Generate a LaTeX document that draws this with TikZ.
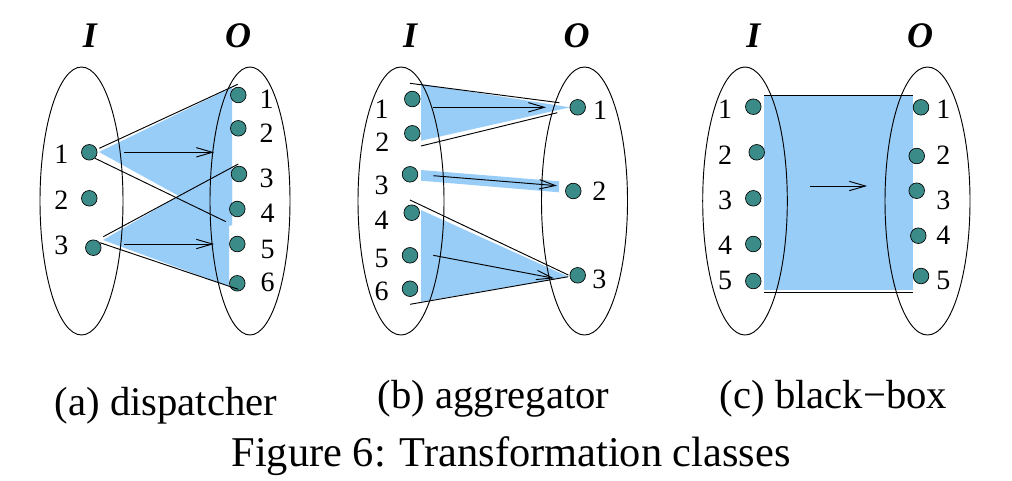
\documentclass[tikz,border=0pt]{standalone}
\usepackage{fontspec}
\setmainfont{Liberation Serif}
\usetikzlibrary{arrows.meta}
\definecolor{dotc}{HTML}{3B8C88}
\definecolor{blu}{HTML}{98CDF8}
\tikzset{
  dot/.style={circle,draw=black,line width=0.5pt,fill=dotc,minimum size=11.7pt,inner sep=0pt},
  num/.style={font=\fontsize{21pt}{22pt}\selectfont,inner sep=0pt},
  io/.style={font=\fontsize{27pt}{28pt}\selectfont\bfseries\itshape,inner sep=0pt},
  captxt/.style={font=\fontsize{30.5pt}{32pt}\selectfont,inner sep=0pt},
  figtxt/.style={font=\fontsize{31.8pt}{33pt}\selectfont,inner sep=0pt},
  ln/.style={draw=black,line width=0.7pt},
  arr/.style={ln,-{Straight Barb[length=12pt,width=7pt]}},
  setell/.style={draw=black,line width=0.7pt}
}
\begin{document}
\begin{tikzpicture}[x=0.75pt,y=-0.75pt]
\useasboundingbox (0,0) rectangle (1012,480);

% ================= (a) dispatcher =================
\fill[blu] (99,152) -- (237,85) -- (232,86) -- (232,225) -- (226,222) -- cycle;
\fill[blu] (103,240) -- (232,165) -- (232,225) -- (229,226) -- (229,287) -- (236,289) -- cycle;
\draw[setell] (81.5,201) ellipse [x radius=41.5, y radius=134];
\draw[setell] (250,201) ellipse [x radius=40, y radius=134];
\node[io] (aI) at (90,36) {I};
\node[io] (aO) at (238,36) {O};
\node[dot] (ai1) at (89.3,152.3) {};
\node[dot] (ai2) at (89.3,198.3) {};
\node[dot] (ai3) at (93.3,247.7) {};
\node[num] (ail1) at (61.3,154.7) {1};
\node[num] (ail2) at (61.3,200.7) {2};
\node[num] (ail3) at (61.3,245.5) {3};
\node[dot] (ao1) at (238.3,95) {};
\node[dot] (ao2) at (238.3,128.3) {};
\node[dot] (ao3) at (239,174) {};
\node[dot] (ao4) at (237.3,209) {};
\node[dot] (ao5) at (237.3,244) {};
\node[dot] (ao6) at (237.3,283.3) {};
\node[num] (aol1) at (266.7,99) {1};
\node[num] (aol2) at (266.7,133) {2};
\node[num] (aol3) at (266.7,178) {3};
\node[num] (aol4) at (267.7,213) {4};
\node[num] (aol5) at (267.7,249) {5};
\node[num] (aol6) at (267.7,282) {6};
\coordinate (a1s) at (99.3,148.3); \coordinate (a1e) at (237.7,84.3);
\coordinate (a2s) at (95,158.3);   \coordinate (a2e) at (226,221.7);
\coordinate (a3s) at (103.3,236.7);\coordinate (a3e) at (238.3,164);
\coordinate (a4s) at (100,242.7);  \coordinate (a4e) at (238.3,289.3);
\coordinate (aA1s) at (124,152.3); \coordinate (aA1e) at (214,152.3);
\coordinate (aA2s) at (124,244);   \coordinate (aA2e) at (214,244);
\draw[ln] (a1s) -- (a1e);
\draw[ln] (a2s) -- (a2e);
\draw[ln] (a3s) -- (a3e);
\draw[ln] (a4s) -- (a4e);
\draw[arr] (aA1s) -- (aA1e);
\draw[arr] (aA2s) -- (aA2e);

% ================= (b) aggregator =================
\fill[blu] (421,84) -- (570,107.3) -- (421,140.7) -- cycle;
\fill[blu] (421,170) -- (559,181.3) -- (559,192.3) -- (421,180.7) -- cycle;
\fill[blu] (421,210) -- (568.3,276.7) -- (421,301.7) -- cycle;
\draw[setell] (401,201) ellipse [x radius=43, y radius=134];
\draw[setell] (584.5,201) ellipse [x radius=43, y radius=134];
\node[io] (bI) at (410,36) {I};
\node[io] (bO) at (576.7,36) {O};
\node[dot] (bi1) at (412.3,99) {};
\node[dot] (bi2) at (412.3,133.3) {};
\node[dot] (bi3) at (410,174.3) {};
\node[dot] (bi4) at (411.7,212.7) {};
\node[dot] (bi5) at (410,255.3) {};
\node[dot] (bi6) at (410,288.7) {};
\node[num] (bil1) at (381.7,109.2) {1};
\node[num] (bil2) at (382.3,142.5) {2};
\node[num] (bil3) at (381.7,185.8) {3};
\node[num] (bil4) at (381.7,220) {4};
\node[num] (bil5) at (381.7,258) {5};
\node[num] (bil6) at (381.7,291.7) {6};
\node[dot] (bo1) at (577.7,107.3) {};
\node[dot] (bo2) at (573.3,191) {};
\node[dot] (bo3) at (577.7,275.3) {};
\node[num] (bol1) at (600,110) {1};
\node[num] (bol2) at (599.3,191) {2};
\node[num] (bol3) at (599.3,279) {3};
\coordinate (b1s) at (410,83.3);   \coordinate (b1e) at (559.3,102.7);
\coordinate (b2s) at (421,146);    \coordinate (b2e) at (557.3,112.7);
\coordinate (b3s) at (410,200);    \coordinate (b3e) at (568.3,275);
\coordinate (b4s) at (410,304.3);  \coordinate (b4e) at (568.3,276.7);
\coordinate (bA1s) at (433.3,107.3); \coordinate (bA1e) at (546,107.3);
\coordinate (bA2s) at (433.3,175.7); \coordinate (bA2e) at (557,185.7);
\coordinate (bA3s) at (433.3,255.3); \coordinate (bA3e) at (554,278.3);
\draw[ln] (b1s) -- (b1e);
\draw[ln] (b2s) -- (b2e);
\draw[ln] (b3s) -- (b3e);
\draw[ln] (b4s) -- (b4e);
\draw[arr] (bA1s) -- (bA1e);
\draw[arr] (bA2s) -- (bA2e);
\draw[arr] (bA3s) -- (bA3e);

% ================= (c) black-box =================
\fill[blu] (764,95) rectangle (913.3,290);
\draw[setell] (745,201) ellipse [x radius=42.3, y radius=134];
\draw[setell] (927.5,201) ellipse [x radius=42.5, y radius=134];
\node[io] (cI) at (753.3,36) {I};
\node[io] (cO) at (920,36) {O};
\coordinate (c1s) at (764,95);    \coordinate (c1e) at (913.3,95);
\coordinate (c2s) at (764,292.7); \coordinate (c2e) at (913.3,292.7);
\coordinate (cAs) at (810,186);   \coordinate (cAe) at (867,186);
\draw[ln] (c1s) -- (c1e);
\draw[ln] (c2s) -- (c2e);
\draw[arr] (cAs) -- (cAe);
\node[dot] (ci1) at (753.3,106.7) {};
\node[dot] (ci2) at (756.7,152.3) {};
\node[dot] (ci3) at (753.3,198.3) {};
\node[dot] (ci4) at (753.3,244) {};
\node[dot] (ci5) at (753.3,281) {};
\node[num] (cil1) at (725,109.5) {1};
\node[num] (cil2) at (725,155.5) {2};
\node[num] (cil3) at (725,200.5) {3};
\node[num] (cil4) at (725,245) {4};
\node[num] (cil5) at (725,280.5) {5};
\node[dot] (co1) at (921,107.3) {};
\node[dot] (co2) at (916.7,156) {};
\node[dot] (co3) at (916.7,190.7) {};
\node[dot] (co4) at (918.3,235.7) {};
\node[dot] (co5) at (921,276) {};
\node[num] (col1) at (943.3,109.5) {1};
\node[num] (col2) at (943.3,155.5) {2};
\node[num] (col3) at (943.3,200.5) {3};
\node[num] (col4) at (943.3,235) {4};
\node[num] (col5) at (943.3,280.5) {5};

% ================= captions =================
\node[captxt,anchor=base] (capa) at (166,415) {(a) dispatcher};
\node[captxt,anchor=base] (capb) at (493.5,408) {(b) aggregator};
\node[captxt,anchor=base] (capc) at (833.5,408) {(c) black−box};
\node[figtxt,anchor=base] (fig) at (511,466) {Figure 6: Transformation classes};
\end{tikzpicture}
\end{document}
